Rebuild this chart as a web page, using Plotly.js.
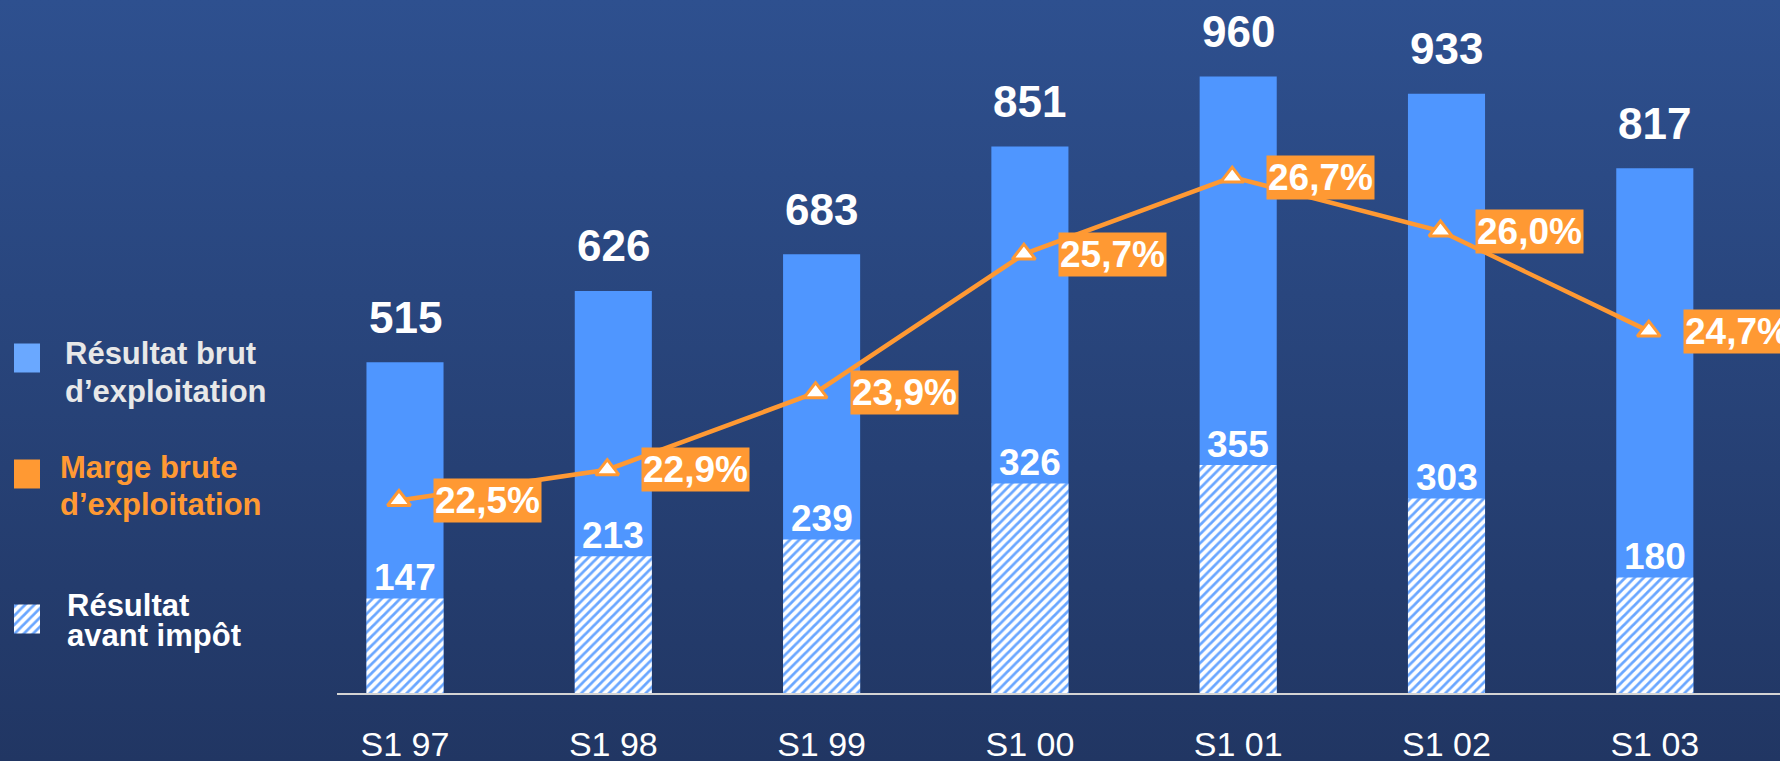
<!DOCTYPE html>
<html>
<head>
<meta charset="utf-8">
<script src="https://cdn.plot.ly/plotly-3.0.1.min.js"></script>
<style>
  html, body { margin: 0; padding: 0; }
  #chart {
    width: 1780px;
    height: 761px;
    background: linear-gradient(to bottom, #2e508f 0%, #213663 100%);
  }
</style>
</head>
<body>
<div id="chart"></div>
<script>
// data
const periods = ['S1 97', 'S1 98', 'S1 99', 'S1 00', 'S1 01', 'S1 02', 'S1 03'];
const rbe = [515, 626, 683, 851, 960, 933, 817];      // Résultat brut d'exploitation
const rai = [147, 213, 239, 326, 355, 303, 180];      // Résultat avant impôt
const marge = [22.5, 22.9, 23.9, 25.7, 26.7, 26.0, 24.7]; // Marge brute d'exploitation (%)

const legendNames = ['Résultat brut d\u2019exploitation', 'Marge brute d\u2019exploitation', 'Résultat avant impôt'];
const legendLines = [
  ['Résultat brut', 'd\u2019exploitation'],
  ['Marge brute', 'd\u2019exploitation'],
  ['Résultat', 'avant impôt']
];

const W = 1780, H = 761;
const FONT = 'Liberation Sans, Arial, sans-serif';
const BLUE = '#4f96ff';
const ORANGE = '#ff9933';
const hatch = { shape: '/', bgcolor: '#ffffff', fgcolor: '#69a6ff', size: 6.5, solidity: 0.42 };

const px = v => v / W;
const py = v => 1 - v / H;

const plotLeft = 337, plotBottom = 68;
const catStep = 208.3, firstCat = 68;
const xRange = [-firstCat / catStep, (W - plotLeft - firstCat) / catStep];
const lineShift = 6 / catStep;

const traces = [
  {
    type: 'bar', name: legendNames[0], x: periods, y: rbe,
    marker: { color: BLUE }, width: 0.37, hoverinfo: 'skip'
  },
  {
    type: 'bar', name: legendNames[2], x: periods, y: rai,
    marker: { color: '#ffffff', pattern: hatch, line: { width: 0 } }, width: 0.37, hoverinfo: 'skip'
  },
  {
    type: 'scatter', mode: 'lines+markers', name: legendNames[1],
    x: periods, y: marge, xaxis: 'x2', yaxis: 'y2',
    line: { color: ORANGE, width: 4.5 },
    marker: { symbol: 'triangle-up', size: 20, color: '#ffffff', line: { color: ORANGE, width: 3 } },
    hoverinfo: 'skip'
  }
];

// legend squares drawn as small bars in a tiny side subplot
const legendY = [358, 474, 619];
const legendStyles = [
  { color: '#6aa8ff' },
  { color: ORANGE },
  { color: '#ffffff', pattern: hatch }
];
legendStyles.forEach((m, i) => {
  traces.push({
    type: 'bar', orientation: 'h', x: [1], y: [legendY[i]], width: 29,
    xaxis: 'x3', yaxis: 'y3', marker: m, hoverinfo: 'skip', showlegend: false
  });
});

const annotations = [];

// value labels
periods.forEach((p, i) => {
  annotations.push({
    x: p, y: rbe[i], xref: 'x', yref: 'y', text: String(rbe[i]),
    showarrow: false, yanchor: 'middle', yshift: 45,
    font: { family: FONT, size: 44, color: '#ffffff', weight: 'bold' }
  });
  annotations.push({
    x: p, y: rai[i], xref: 'x', yref: 'y', text: String(rai[i]),
    showarrow: false, yanchor: 'middle', yshift: 21,
    font: { family: FONT, size: 37, color: '#ffffff', weight: 'bold' }
  });
  annotations.push({
    x: p, y: marge[i], xref: 'x2', yref: 'y2',
    text: marge[i].toFixed(1).replace('.', ',') + '%',
    showarrow: false, xanchor: 'left', yanchor: 'middle', xshift: 34,
    bgcolor: ORANGE, borderpad: 1,
    font: { family: FONT, size: 37, color: '#ffffff', weight: 'bold' }
  });
});

// legend text
const legendText = [
  { x: 63, ys: [354, 391], color: '#e8e8e8' },
  { x: 58, ys: [467, 504], color: ORANGE },
  { x: 65, ys: [605, 635], color: '#ffffff' }
];
legendText.forEach((t, i) => {
  legendLines[i].forEach((line, j) => {
    annotations.push({
      xref: 'paper', yref: 'paper', x: px(t.x), y: py(t.ys[j]),
      xanchor: 'left', yanchor: 'middle', showarrow: false, text: line,
      font: { family: FONT, size: 31, color: t.color, weight: 'bold' }
    });
  });
});

const layout = {
  width: W, height: H,
  margin: { l: 0, r: 0, t: 0, b: 0 },
  paper_bgcolor: 'rgba(0,0,0,0)',
  plot_bgcolor: 'rgba(0,0,0,0)',
  barmode: 'overlay',
  showlegend: false,
  xaxis: {
    domain: [px(plotLeft), 1], range: xRange, type: 'category',
    showline: true, linecolor: '#d4d4d4', linewidth: 2,
    showgrid: false, zeroline: false, ticks: '', automargin: false,
    ticklabelstandoff: 20,
    tickfont: { family: FONT, size: 34, color: '#ffffff' }
  },
  yaxis: {
    domain: [plotBottom / H, 1], range: [0, 1079],
    visible: false, showgrid: false, zeroline: false, automargin: false
  },
  xaxis2: {
    overlaying: 'x', range: [xRange[0] + lineShift, xRange[1] + lineShift], type: 'category',
    visible: false, showgrid: false, zeroline: false
  },
  yaxis2: {
    overlaying: 'y', range: [20, 29], visible: false, showgrid: false, zeroline: false
  },
  xaxis3: {
    domain: [px(14), px(40)], range: [0, 1], visible: false, fixedrange: true, anchor: 'y3'
  },
  yaxis3: {
    domain: [0, 1], range: [H, 0], visible: false, fixedrange: true, anchor: 'x3'
  },
  annotations: annotations
};

Plotly.newPlot('chart', traces, layout, { displayModeBar: false, staticPlot: true });
</script>
</body>
</html>
